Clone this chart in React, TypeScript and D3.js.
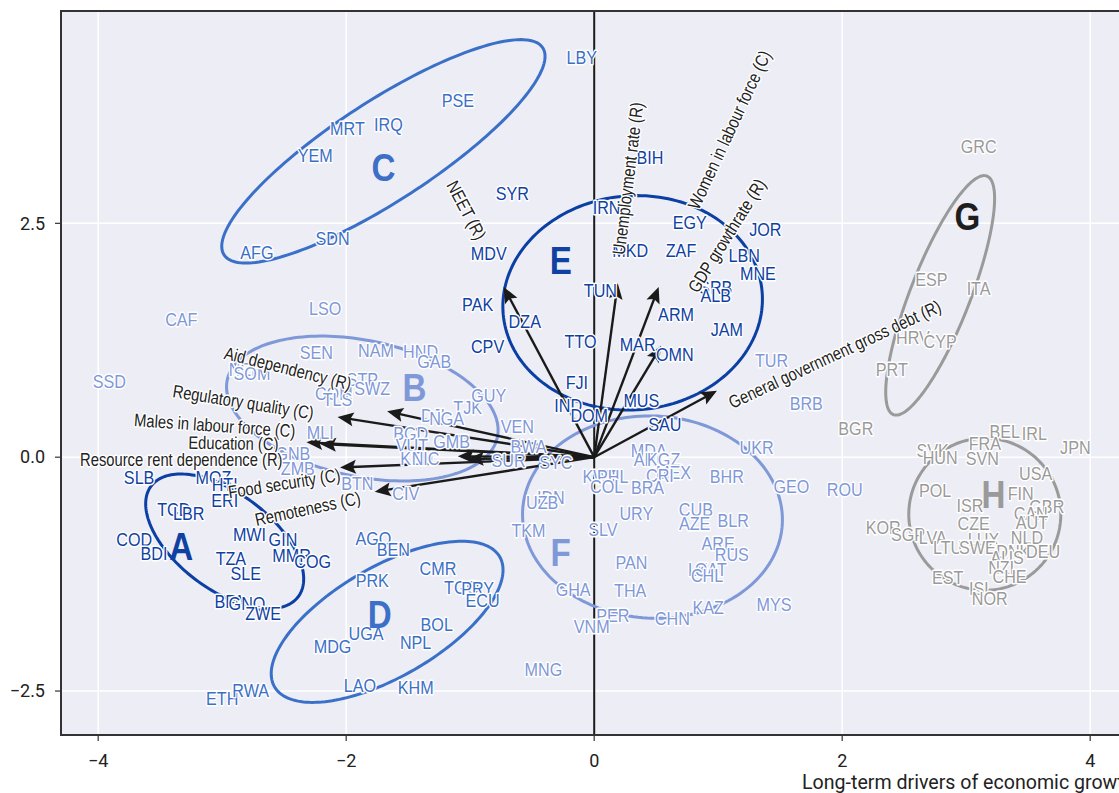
import React from 'react';
import * as d3 from 'd3';

const W = 1119;
const H = 793;
const X_DOMAIN: [number, number] = [-4.3, 4.5];
const Y_DOMAIN: [number, number] = [-2.97, 4.77];
const X_TICKS = [-4, -2, 0, 2, 4];
const Y_TICKS = [-2.5, 0, 2.5];
const X_TITLE = 'Long-term drivers of economic growth';

type Pt = [string, number, number];

const clusterA: Pt[] = [
  ['SLB', -3.67, -0.22], ['MOZ', -3.07, -0.22], ['HTI', -2.98, -0.29], ['ERI', -2.98, -0.46],
  ['TCD', -3.39, -0.56], ['LBR', -3.27, -0.6], ['COD', -3.71, -0.88], ['BDI', -3.55, -1.03],
  ['MWI', -2.78, -0.83], ['GIN', -2.51, -0.88], ['MMR', -2.44, -1.05], ['COG', -2.27, -1.11],
  ['TZA', -2.93, -1.08], ['SLE', -2.81, -1.24], ['BFA', -2.94, -1.54], ['GNQ', -2.8, -1.56],
  ['ZWE', -2.67, -1.67],
];
const clusterB: Pt[] = [
  ['SSD', -3.91, 0.81], ['CAF', -3.33, 1.47], ['LSO', -2.17, 1.59], ['SEN', -2.24, 1.12],
  ['NAM', -1.76, 1.14], ['HND', -1.4, 1.13], ['GAB', -1.29, 1.02], ['NER', -2.81, 0.94],
  ['SOM', -2.76, 0.9], ['STP', -1.87, 0.83], ['SWZ', -1.79, 0.74], ['COM', -2.1, 0.68],
  ['TLS', -2.07, 0.62], ['TJK', -1.02, 0.53], ['GUY', -0.85, 0.66], ['DJI', -1.3, 0.45],
  ['NGA', -1.19, 0.42], ['MLI', -2.21, 0.27], ['BGD', -1.48, 0.26], ['VUT', -1.47, 0.13],
  ['GMB', -1.15, 0.17], ['KEN', -1.43, -0.01], ['NIC', -1.36, -0.01], ['GNB', -2.43, 0.04],
  ['ZMB', -2.39, -0.12], ['BTN', -1.91, -0.28], ['CIV', -1.52, -0.39], ['VEN', -0.62, 0.33],
  ['BWA', -0.53, 0.12], ['SUR', -0.69, -0.03], ['SYC', -0.31, -0.06],
];
const clusterC: Pt[] = [
  ['LBY', -0.1, 4.27], ['PSE', -1.1, 3.82], ['IRQ', -1.66, 3.56], ['MRT', -1.99, 3.52],
  ['YEM', -2.25, 3.23], ['SDN', -2.11, 2.34], ['AFG', -2.72, 2.19],
];
const clusterD: Pt[] = [
  ['AGO', -1.78, -0.87], ['BEN', -1.62, -0.98], ['CMR', -1.26, -1.19], ['PRK', -1.79, -1.32],
  ['TGO', -1.07, -1.39], ['PRY', -0.94, -1.4], ['ECU', -0.9, -1.53], ['BOL', -1.27, -1.79],
  ['UGA', -1.84, -1.88], ['NPL', -1.44, -1.98], ['MDG', -2.11, -2.02], ['LAO', -1.89, -2.44],
  ['KHM', -1.44, -2.46], ['ETH', -3.0, -2.58], ['RWA', -2.77, -2.49],
];
const clusterE: Pt[] = [
  ['SYR', -0.66, 2.82], ['MDV', -0.85, 2.18], ['PAK', -0.94, 1.63], ['CPV', -0.86, 1.18],
  ['DZA', -0.56, 1.45], ['IRN', 0.1, 2.67], ['BIH', 0.45, 3.21], ['EGY', 0.77, 2.51],
  ['JOR', 1.38, 2.44], ['MKD', 0.29, 2.21], ['ZAF', 0.7, 2.21], ['LBN', 1.21, 2.16],
  ['MNE', 1.32, 1.97], ['SRB', 0.98, 1.82], ['ALB', 0.98, 1.73], ['TUN', 0.05, 1.78],
  ['ARM', 0.66, 1.53], ['JAM', 1.07, 1.37], ['TTO', -0.11, 1.24], ['MAR', 0.35, 1.21],
  ['OMN', 0.65, 1.1], ['FJI', -0.14, 0.8], ['IND', -0.21, 0.55], ['DOM', -0.04, 0.45],
  ['MUS', 0.38, 0.61], ['SAU', 0.57, 0.35],
];
const clusterF: Pt[] = [
  ['MDA', 0.44, 0.07], ['ARG', 0.46, -0.02], ['KGZ', 0.56, -0.02], ['UKR', 1.31, 0.1],
  ['MEX', 0.64, -0.16], ['CRI', 0.53, -0.19], ['KWT', 0.05, -0.21], ['PHL', 0.15, -0.21],
  ['COL', 0.1, -0.31], ['BRA', 0.43, -0.32], ['BHR', 1.07, -0.21], ['GEO', 1.59, -0.31],
  ['IDN', -0.35, -0.43], ['UZB', -0.42, -0.48], ['URY', 0.34, -0.6], ['CUB', 0.82, -0.56],
  ['AZE', 0.81, -0.71], ['BLR', 1.12, -0.68], ['TKM', -0.53, -0.78], ['SLV', 0.07, -0.77],
  ['ARE', 1.0, -0.92], ['RUS', 1.11, -1.04], ['PAN', 0.3, -1.12], ['LKA', 0.88, -1.2],
  ['QAT', 0.94, -1.2], ['CHL', 0.91, -1.26], ['GHA', -0.17, -1.41], ['THA', 0.29, -1.42],
  ['MYS', 1.45, -1.57], ['KAZ', 0.92, -1.61], ['PER', 0.15, -1.69], ['CHN', 0.63, -1.72],
  ['VNM', -0.02, -1.81], ['MNG', -0.41, -2.27], ['TUR', 1.43, 1.03], ['BRB', 1.71, 0.58],
  ['ROU', 2.02, -0.34],
];
const clusterG: Pt[] = [
  ['GRC', 3.1, 3.32], ['ESP', 2.72, 1.9], ['ITA', 3.1, 1.8], ['HRV', 2.57, 1.28],
  ['CYP', 2.79, 1.24], ['PRT', 2.4, 0.94], ['BGR', 2.11, 0.31],
];
const clusterH: Pt[] = [
  ['BEL', 3.31, 0.28], ['IRL', 3.55, 0.25], ['JPN', 3.88, 0.1], ['FRA', 3.15, 0.15],
  ['SVK', 2.73, 0.07], ['HUN', 2.79, 0.0], ['SVN', 3.13, -0.01], ['USA', 3.56, -0.17],
  ['POL', 2.75, -0.35], ['FIN', 3.44, -0.39], ['ISR', 3.03, -0.51], ['GBR', 3.65, -0.53],
  ['CAN', 3.52, -0.6], ['AUT', 3.53, -0.7], ['CZE', 3.06, -0.71], ['KOR', 2.33, -0.75],
  ['SGP', 2.53, -0.82], ['LVA', 2.73, -0.86], ['LUX', 3.14, -0.88], ['NLD', 3.49, -0.86],
  ['LTU', 2.85, -0.96], ['SWE', 3.09, -0.96], ['DNK', 3.38, -1.01], ['DEU', 3.62, -1.01],
  ['AUS', 3.33, -1.07], ['NZL', 3.3, -1.18], ['CHE', 3.35, -1.27], ['EST', 2.85, -1.28],
  ['ISL', 3.12, -1.4], ['NOR', 3.19, -1.51],
];

const clusters: { id: string; points: Pt[] }[] = [
  { id: 'A', points: clusterA }, { id: 'B', points: clusterB }, { id: 'C', points: clusterC },
  { id: 'D', points: clusterD }, { id: 'E', points: clusterE }, { id: 'F', points: clusterF },
  { id: 'G', points: clusterG }, { id: 'H', points: clusterH },
];

// cluster letter positions (data units)
const groupLetters: Pt[] = [
  ['A', -3.33, -0.95], ['B', -1.45, 0.75], ['C', -1.7, 3.1], ['D', -1.73, -1.68],
  ['E', -0.27, 2.1], ['F', -0.27, -1.02], ['G', 3.01, 2.57], ['H', 3.22, -0.4],
];

// ellipses: centre and two conjugate semi-axis vectors (data units)
const ellipseParams: { id: string; cx: number; cy: number; u: [number, number]; v: [number, number] }[] = [
  { id: 'A', cx: -2.98, cy: -0.9, u: [0.593, -0.592], v: [-0.233, -0.41] },
  { id: 'B', cx: -1.87, cy: 0.52, u: [1.089, -0.307], v: [-0.114, -0.711] },
  { id: 'C', cx: -1.7, cy: 3.27, u: [1.285, 1.107], v: [0.22, -0.448] },
  { id: 'D', cx: -1.67, cy: -1.76, u: [0.908, 0.695], v: [0.222, -0.509] },
  { id: 'E', cx: 0.31, cy: 1.65, u: [1.044, 0.121], v: [0.075, -1.14] },
  { id: 'F', cx: 0.47, cy: -0.64, u: [1.047, -0.073], v: [-0.043, -1.079] },
  { id: 'G', cx: 2.79, cy: 1.73, u: [0.377, 1.275], v: [0.225, -0.117] },
  { id: 'H', cx: 3.15, cy: -0.61, u: [0.613, 0], v: [0, -0.813] },
];

// variable loadings (arrow tips)
const loadings: { label: string; x: number; y: number }[] = [
  { label: 'NEET (R)', x: -0.73, y: 1.82 },
  { label: 'Unemployment rate (R)', x: 0.19, y: 1.86 },
  { label: 'Women in labour force (C)', x: 0.52, y: 1.82 },
  { label: 'GDP growthrate (R)', x: 0.54, y: 1.19 },
  { label: 'General government gross debt (R)', x: 0.99, y: 0.71 },
  { label: 'Aid dependency (R)', x: -1.67, y: 0.49 },
  { label: 'Regulatory quality (C)', x: -2.07, y: 0.43 },
  { label: 'Males in labour force (C)', x: -2.32, y: 0.16 },
  { label: 'Education (C)', x: -2.21, y: 0.14 },
  { label: 'Resource rent dependence (R)', x: -1.1, y: 0.01 },
  { label: 'Food security (C)', x: -2.05, y: -0.11 },
  { label: 'Remoteness (C)', x: -1.77, y: -0.37 },
  { label: '', x: -1.02, y: -0.02 },
];
// label placement (data units) and rotation, one per loading
const loadingLabelLayout: { x: number; y: number; angle: number }[] = [
  { x: -1.03, y: 2.64, angle: 62 },
  { x: 0.27, y: 2.98, angle: -83 },
  { x: 1.09, y: 3.5, angle: -65 },
  { x: 1.07, y: 2.37, angle: -58 },
  { x: 1.94, y: 1.1, angle: -25 },
  { x: -2.47, y: 0.95, angle: 14 },
  { x: -2.83, y: 0.59, angle: 9 },
  { x: -3.06, y: 0.34, angle: 4 },
  { x: -2.91, y: 0.15, angle: 1 },
  { x: -3.33, y: -0.03, angle: 0 },
  { x: -2.5, y: -0.28, angle: -9 },
  { x: -2.31, y: -0.55, angle: -12 },
  { x: 0, y: 0, angle: 0 },
];

const TEXT_COLOR: Record<string, string> = {
  A: '#0f41a3', B: '#7f98d8', C: '#3b70c6', D: '#3b70c6',
  E: '#0f41a3', F: '#7f98d8', G: '#9a9a9a', H: '#9a9a9a',
};
const LETTER_COLOR: Record<string, string> = { ...TEXT_COLOR, G: '#1e1e1e' };
const ELLIPSE_COLOR: Record<string, string> = {
  A: '#0b3fa3', B: '#7f98d8', C: '#3a70c8', D: '#3a70c8',
  E: '#0b3fa3', F: '#7f98d8', G: '#9a9a9a', H: '#9a9a9a',
};

const SANS = "'Liberation Sans', Arial, sans-serif";
const SQUEEZE = 0.85;

export default function App() {
  const left = 61, top = 11, bottom = 735;
  const x = d3.scaleLinear().domain(X_DOMAIN).range([left, left + (X_DOMAIN[1] - X_DOMAIN[0]) * 124]);
  const y = d3.scaleLinear().domain(Y_DOMAIN).range([bottom, top]);
  const right = x.range()[1];
  const x0 = x(0), y0 = y(0);

  const ellipsePath = (e: typeof ellipseParams[number]) => {
    const ts = d3.range(0, 2 * Math.PI, Math.PI / 90);
    const line = d3.line<number>()
      .x((t) => x(e.cx + e.u[0] * Math.cos(t) + e.v[0] * Math.sin(t)))
      .y((t) => y(e.cy + e.u[1] * Math.cos(t) + e.v[1] * Math.sin(t)))
      .curve(d3.curveLinearClosed);
    return line(ts) || '';
  };

  const fmtY = d3.format('.1f');
  const fmtX = d3.format('d');
  const halo = { paintOrder: 'stroke' as const, stroke: '#ffffff', strokeWidth: 3, strokeLinejoin: 'round' as const };

  return (
    <svg width={W} height={H} style={{ position: 'absolute', left: 0, top: 0 }}>
      <defs>
        <clipPath id="plotClip">
          <rect x={left} y={top} width={right - left} height={bottom - top} />
        </clipPath>
      </defs>
      <rect x={left} y={top} width={right - left} height={bottom - top} fill="#ededf6" />
      <g clipPath="url(#plotClip)">
        {X_TICKS.map((t) => (
          <line key={'gx' + t} x1={x(t)} x2={x(t)} y1={top} y2={bottom} stroke="#ffffff" strokeWidth={1.5} />
        ))}
        {Y_TICKS.map((t) => (
          <line key={'gy' + t} x1={left} x2={right} y1={y(t)} y2={y(t)} stroke="#ffffff" strokeWidth={1.5} />
        ))}
        <line x1={x0} x2={x0} y1={top} y2={bottom} stroke="#1a1a1a" strokeWidth={2} />
        {ellipseParams.map((e) => (
          <path key={'e' + e.id} d={ellipsePath(e)} fill="none" stroke={ELLIPSE_COLOR[e.id]} strokeWidth={3} />
        ))}
        {loadings.map((l, i) => {
          const tx = x(l.x), ty = y(l.y);
          const dx = tx - x0, dy = ty - y0;
          const len = Math.sqrt(dx * dx + dy * dy);
          const ux = dx / len, uy = dy / len;
          const hl = 16, hw = 7;
          const bx = tx - ux * hl, by = ty - uy * hl;
          const pts = [
            [tx, ty],
            [bx - uy * hw, by + ux * hw],
            [bx + ux * 3, by + uy * 3],
            [bx + uy * hw, by - ux * hw],
          ].map((p) => p.join(',')).join(' ');
          return (
            <g key={'a' + i}>
              <line x1={x0} y1={y0} x2={bx + ux * 4} y2={by + uy * 4} stroke="#1a1a1a" strokeWidth={2.4} />
              <polygon points={pts} fill="#1a1a1a" />
            </g>
          );
        })}
        {clusters.map((c) =>
          c.points.map(([code, px, py]) => (
            <text key={c.id + code} transform={`translate(${x(px)},${y(py)}) scale(${SQUEEZE},1)`} dy="0.35em"
              textAnchor="middle" fontFamily={SANS} fontSize={19} fill={TEXT_COLOR[c.id]} {...halo}>
              {code}
            </text>
          ))
        )}
        {groupLetters.map(([g, gx, gy]) => (
          <text key={'g' + g} transform={`translate(${x(gx)},${y(gy)}) scale(${SQUEEZE},1)`} dy="0.35em"
            textAnchor="middle" fontFamily={SANS} fontWeight="bold" fontSize={39} fill={LETTER_COLOR[g]}>
            {g}
          </text>
        ))}
        {loadings.map((l, i) => {
          const p = loadingLabelLayout[i];
          if (!l.label) return null;
          return (
            <text key={'l' + i}
              transform={`translate(${x(p.x)},${y(p.y)}) rotate(${p.angle}) scale(0.82,1)`} dy="0.35em"
              textAnchor="middle" fontFamily={SANS} fontSize={18} fill="#222222" {...halo}>
              {l.label}
            </text>
          );
        })}
      </g>
      <rect x={left} y={top} width={right - left} height={bottom - top} fill="none" stroke="#333333" strokeWidth={2} />
      {X_TICKS.map((t) => (
        <g key={'tx' + t}>
          <line x1={x(t)} x2={x(t)} y1={bottom} y2={bottom + 6} stroke="#333333" strokeWidth={1.2} />
          <text x={x(t)} y={bottom + 32} textAnchor="middle" fontFamily="Roboto, sans-serif" fontSize={18} fill="#222222">
            {fmtX(t)}
          </text>
        </g>
      ))}
      {Y_TICKS.map((t) => (
        <g key={'ty' + t}>
          <line x1={left - 6} x2={left} y1={y(t)} y2={y(t)} stroke="#333333" strokeWidth={1.2} />
          <text x={left - 16} y={y(t)} dy="0.35em" textAnchor="end" fontFamily="Roboto, sans-serif" fontSize={18} fill="#222222">
            {fmtY(t)}
          </text>
        </g>
      ))}
      <text x={802} y={789} fontFamily="Roboto, sans-serif" fontSize={19.6} fill="#222222">
        {X_TITLE}
      </text>
    </svg>
  );
}
